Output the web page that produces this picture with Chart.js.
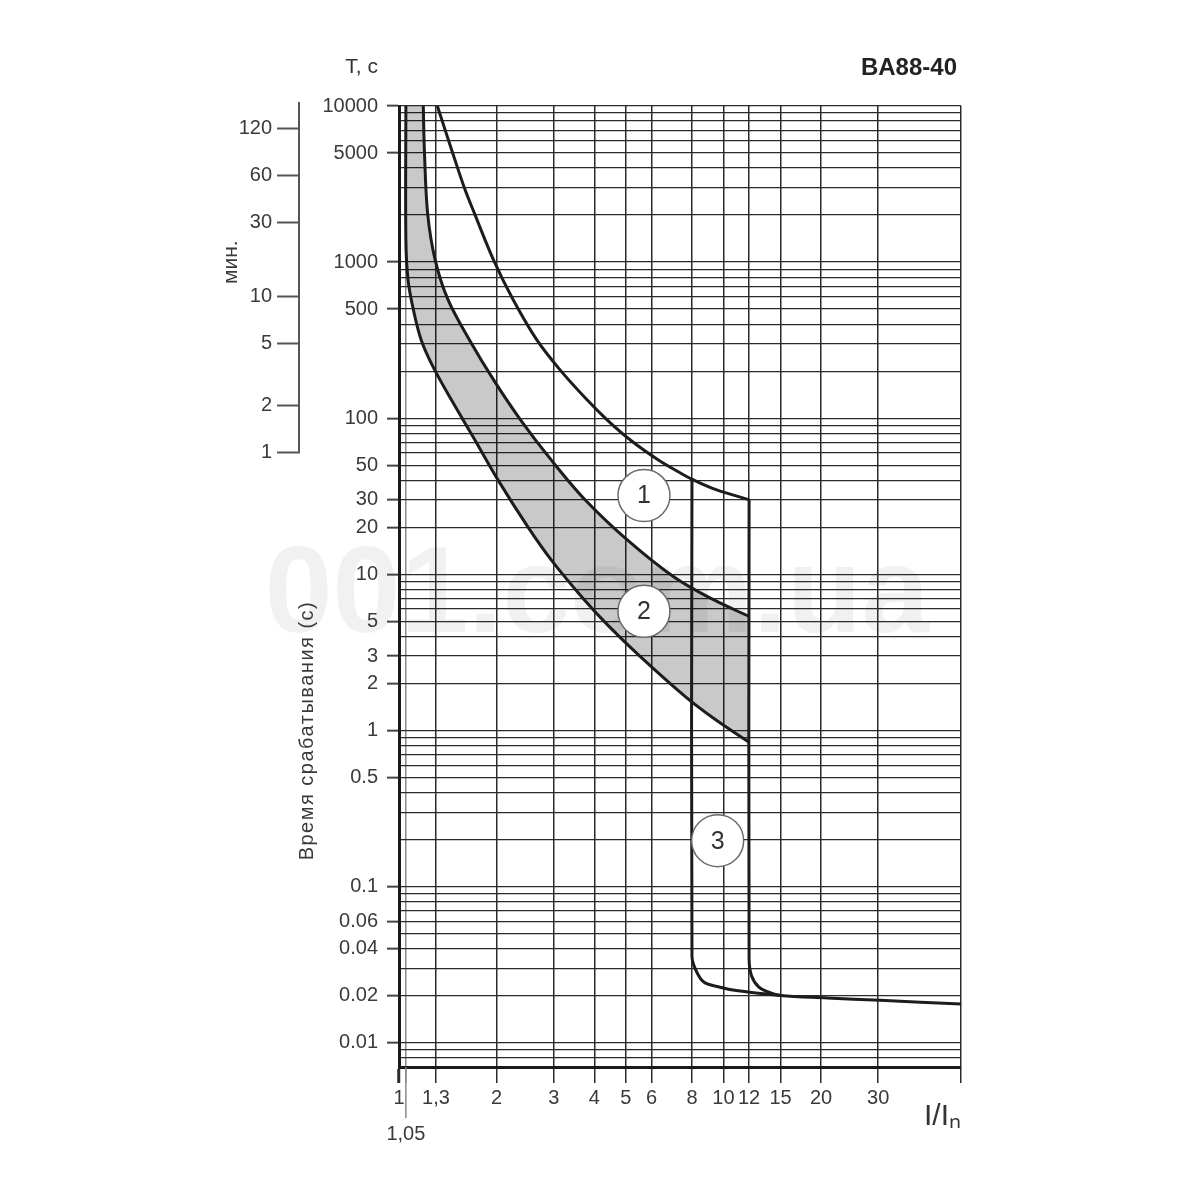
<!DOCTYPE html>
<html>
<head>
<meta charset="utf-8">
<title>BA88-40</title>
<script src="https://cdn.jsdelivr.net/npm/chart.js@4.4.1/dist/chart.umd.min.js"></script>
<style>
  html, body { margin: 0; padding: 0; background: #fff; }
</style>
</head>
<body>
<canvas id="myChart" width="1200" height="1200"></canvas>
<script>
const FONT = '"Liberation Sans", Arial, sans-serif';

// bottom axis, I/In
const xMin = 1;
const xMax = 54;
const xTicks = [1, 1.05, 1.3, 2, 3, 4, 5, 6, 8, 10, 12, 15, 20, 30, 54];
const xTickLabels = ['1', '1,05', '1,3', '2', '3', '4', '5', '6', '8', '10', '12', '15', '20', '30', ''];
const xLowTicks = [1.05]; // label sits on a second row

// time axis, seconds
const yMin = 0.007;
const yMax = 10000;
const yLabelled = [10000, 5000, 1000, 500, 100, 50, 30, 20, 10, 5, 3, 2, 1, 0.5, 0.1, 0.06, 0.04, 0.02, 0.01];

// time axis, minutes
const minTicks = [1, 2, 5, 10, 30, 60, 120];

// curve 1
const c1X = [1.313, 1.461, 1.588, 1.712, 1.957, 2.251, 2.660, 3.136, 3.798, 4.378, 5.153, 6.285, 7.349, 8, 9.489, 12];
const c1T = [10000, 5057, 3021, 2030, 1031, 572.5, 317.6, 204.2, 131.3, 97.8, 72.9, 54.3, 44.8, 40.7, 34.9, 30.1];

// curve 2 - upper edge of the band
const c2upX = [1.188, 1.198, 1.226, 1.293, 1.417, 1.649, 1.957, 2.369, 2.941, 3.745, 5.044, 7.080, 9.289, 12];
const c2upT = [10000, 5057, 2030, 1031, 572.5, 317.6, 176.3, 97.8, 54.3, 30.1, 16.72, 9.554, 6.912, 5.38];

// curve 2 - lower edge of the band
const c2loX = [1.05, 1.05, 1.0664, 1.1044, 1.1704, 1.2738, 1.4502, 1.7119, 2.0159, 2.4926, 2.9411, 3.7183, 4.4401, 5.5334, 7.614, 9.4217, 12];
const c2loT = [10000, 1384, 768.6, 508.7, 317.6, 213.4, 131.3, 72.9, 40.45, 20.24, 12.45, 6.912, 4.645, 2.986, 1.657, 1.181, 0.8416];

// curve 3 - instantaneous release at 8 In
const c3aX = [8, 8, 8.19, 8.7, 9.7, 10.96, 13.4, 15];
const c3aT = [40.7, 0.036, 0.0298, 0.0245, 0.0228, 0.0216, 0.0206, 0.0201];

// curve 3 - instantaneous release at 12 In
const c3bX = [12, 12, 12.2, 12.84, 13.8, 15, 20.9, 30.4, 54];
const c3bT = [30.1, 0.0345, 0.027, 0.0228, 0.0211, 0.0201, 0.0194, 0.0187, 0.0177];

// circled curve numbers
const markX = [5.69, 5.69, 9.6];
const markT = [32, 5.8, 0.197];
const markText = ['1', '2', '3'];

const watermark = '001.com.ua';

// gridlines on the time axis: 1..9 in every decade
const yGrid = [];
for (let e = -3; e <= 4; e++) {
  for (let m = 1; m <= 9; m++) {
    const v = parseFloat((m * Math.pow(10, e)).toPrecision(6));
    if (v >= yMin && v <= yMax) yGrid.push(v);
  }
}
const isLabelled = v => yLabelled.some(l => Math.abs(l - v) / l < 1e-6);

const pts = (xs, ys) => xs.map((x, i) => ({x: x, y: ys[i]}));
const bandPts = pts(c2loX, c2loT).concat(pts(c2upX, c2upT).reverse());

const lineStyle = {
  borderColor: '#1c1c1c',
  borderWidth: 3,
  pointRadius: 0,
  fill: false,
  tension: 0.35,
  order: 1
};

const extras = {
  id: 'extras',
  beforeDraw(chart) {
    const c = chart.ctx;
    c.save();
    c.fillStyle = '#fff';
    c.fillRect(0, 0, chart.width, chart.height);
    c.font = 'bold 122px ' + FONT;
    c.fillStyle = '#f1f1f1';
    c.textAlign = 'center';
    c.textBaseline = 'middle';
    c.fillText(watermark, 597, 598);
    c.restore();
  },
  afterDatasetsDraw(chart) {
    const c = chart.ctx;
    const meta = chart.getDatasetMeta(chart.data.datasets.length - 1);
    c.save();
    c.font = '25px ' + FONT;
    c.fillStyle = '#333';
    c.textAlign = 'center';
    c.textBaseline = 'middle';
    meta.data.forEach((p, i) => c.fillText(markText[i], p.x, p.y + 1));
    c.restore();
  },
  afterDraw(chart) {
    const c = chart.ctx;
    const area = chart.chartArea;
    const ys = chart.scales.y;
    const ym = chart.scales.yMin;
    const xs = chart.scales.x;
    c.save();
    // minutes bracket
    c.strokeStyle = '#555';
    c.lineWidth = 2;
    c.beginPath();
    c.moveTo(ym.right - 1, area.top - 4);
    c.lineTo(ym.right - 1, ym.getPixelForValue(1));
    c.stroke();
    // longer tick for 1,05
    const x105 = xs.getPixelForValue(1.05);
    c.strokeStyle = '#8a8a8a';
    c.lineWidth = 1.5;
    c.beginPath();
    c.moveTo(x105, area.bottom);
    c.lineTo(x105, area.bottom + 51);
    c.stroke();
    // texts
    c.fillStyle = '#333';
    c.textBaseline = 'middle';
    c.font = '21px ' + FONT;
    c.textAlign = 'right';
    c.fillText('T, c', area.left - 21, 67);
    c.font = 'bold 24px ' + FONT;
    c.fillStyle = '#222';
    c.fillText('BA88-40', area.right - 4, 68);
    c.fillStyle = '#3a3a3a';
    c.textAlign = 'center';
    c.save();
    c.translate(231, ys.getPixelForValue(1000));
    c.rotate(-Math.PI / 2);
    c.font = '21px ' + FONT;
    c.fillText('мин.', 0, 0);
    c.restore();
    c.save();
    c.translate(307, ys.getPixelForValue(1));
    c.rotate(-Math.PI / 2);
    c.font = '20px ' + FONT;
    c.letterSpacing = '1.5px';
    c.fillText('Время срабатывания (с)', 0, 0);
    c.restore();
    c.restore();
  }
};

const ctx = document.getElementById('myChart').getContext('2d');
new Chart(ctx, {
  type: 'line',
  data: {
    datasets: [
      {
        data: bandPts,
        fill: 'shape',
        backgroundColor: 'rgba(0,0,0,0.21)',
        borderColor: 'rgba(0,0,0,0)',
        borderWidth: 0,
        pointRadius: 0,
        tension: 0,
        order: 2
      },
      Object.assign({data: pts(c2loX, c2loT)}, lineStyle),
      Object.assign({data: pts(c2upX, c2upT)}, lineStyle),
      Object.assign({data: pts(c1X, c1T)}, lineStyle),
      Object.assign({data: pts(c3aX, c3aT)}, lineStyle),
      Object.assign({data: pts(c3bX, c3bT)}, lineStyle),
      {
        data: pts(markX, markT),
        showLine: false,
        pointRadius: 26,
        pointBackgroundColor: '#fff',
        pointBorderColor: '#6a6a6a',
        pointBorderWidth: 1.5,
        order: 0
      }
    ]
  },
  options: {
    responsive: false,
    animation: false,
    events: [],
    layout: { padding: { left: 200, right: 239, top: 106, bottom: 45 } },
    plugins: {
      legend: { display: false },
      tooltip: { enabled: false }
    },
    scales: {
      x: {
        type: 'logarithmic',
        min: xMin,
        max: xMax,
        bounds: 'data',
        afterBuildTicks: s => { s.ticks = xTicks.map(v => ({value: v})); },
        afterFit: s => { s.height = 88; },
        grid: {
          color: c => (c.tick && c.tick.value === 1.05) ? '#8a8a8a' : '#2b2b2b',
          lineWidth: 1.5,
          tickLength: 16,
          tickWidth: c => (c.tick && c.tick.value === 1) ? 3 : 1.5
        },
        border: { display: true, color: '#1a1a1a', width: 3 },
        ticks: {
          autoSkip: false,
          maxRotation: 0,
          padding: 3,
          color: '#3a3a3a',
          font: c => ({
            family: FONT,
            size: 20,
            lineHeight: (c.tick && xLowTicks.includes(c.tick.value)) ? 1.63 : 1.2
          }),
          callback: v => {
            const label = xTickLabels[xTicks.indexOf(v)];
            return xLowTicks.includes(v) ? ['', label] : label;
          }
        },
        title: {
          display: true,
          text: 'I/Iₙ',
          align: 'end',
          color: '#333',
          font: { family: FONT, size: 30 },
          padding: { top: 0, bottom: 20 }
        }
      },
      y: {
        type: 'logarithmic',
        position: 'left',
        min: yMin,
        max: yMax,
        bounds: 'data',
        weight: 0,
        afterBuildTicks: s => { s.ticks = yGrid.map(v => ({value: v})); },
        afterFit: s => { s.width = 99; },
        grid: {
          color: '#2b2b2b',
          lineWidth: 1.3,
          tickLength: 12,
          tickWidth: 2,
          tickColor: c => (c.tick && isLabelled(c.tick.value)) ? '#444' : 'rgba(0,0,0,0)'
        },
        border: { display: true, color: '#1a1a1a', width: 3 },
        ticks: {
          autoSkip: false,
          padding: 9,
          color: '#3a3a3a',
          font: { family: FONT, size: 20 },
          callback: v => isLabelled(v) ? String(v) : ''
        }
      },
      yMin: {
        type: 'logarithmic',
        position: 'left',
        min: yMin / 60,
        max: yMax / 60,
        bounds: 'data',
        weight: 1,
        afterBuildTicks: s => { s.ticks = minTicks.map(v => ({value: v})); },
        afterFit: s => { s.width = 100; },
        grid: { drawOnChartArea: false, tickLength: 23, tickWidth: 2, tickColor: '#555' },
        border: { display: false },
        ticks: {
          autoSkip: false,
          padding: 5,
          color: '#3a3a3a',
          font: { family: FONT, size: 20 },
          callback: v => String(v)
        }
      }
    }
  },
  plugins: [extras]
});
</script>
</body>
</html>
